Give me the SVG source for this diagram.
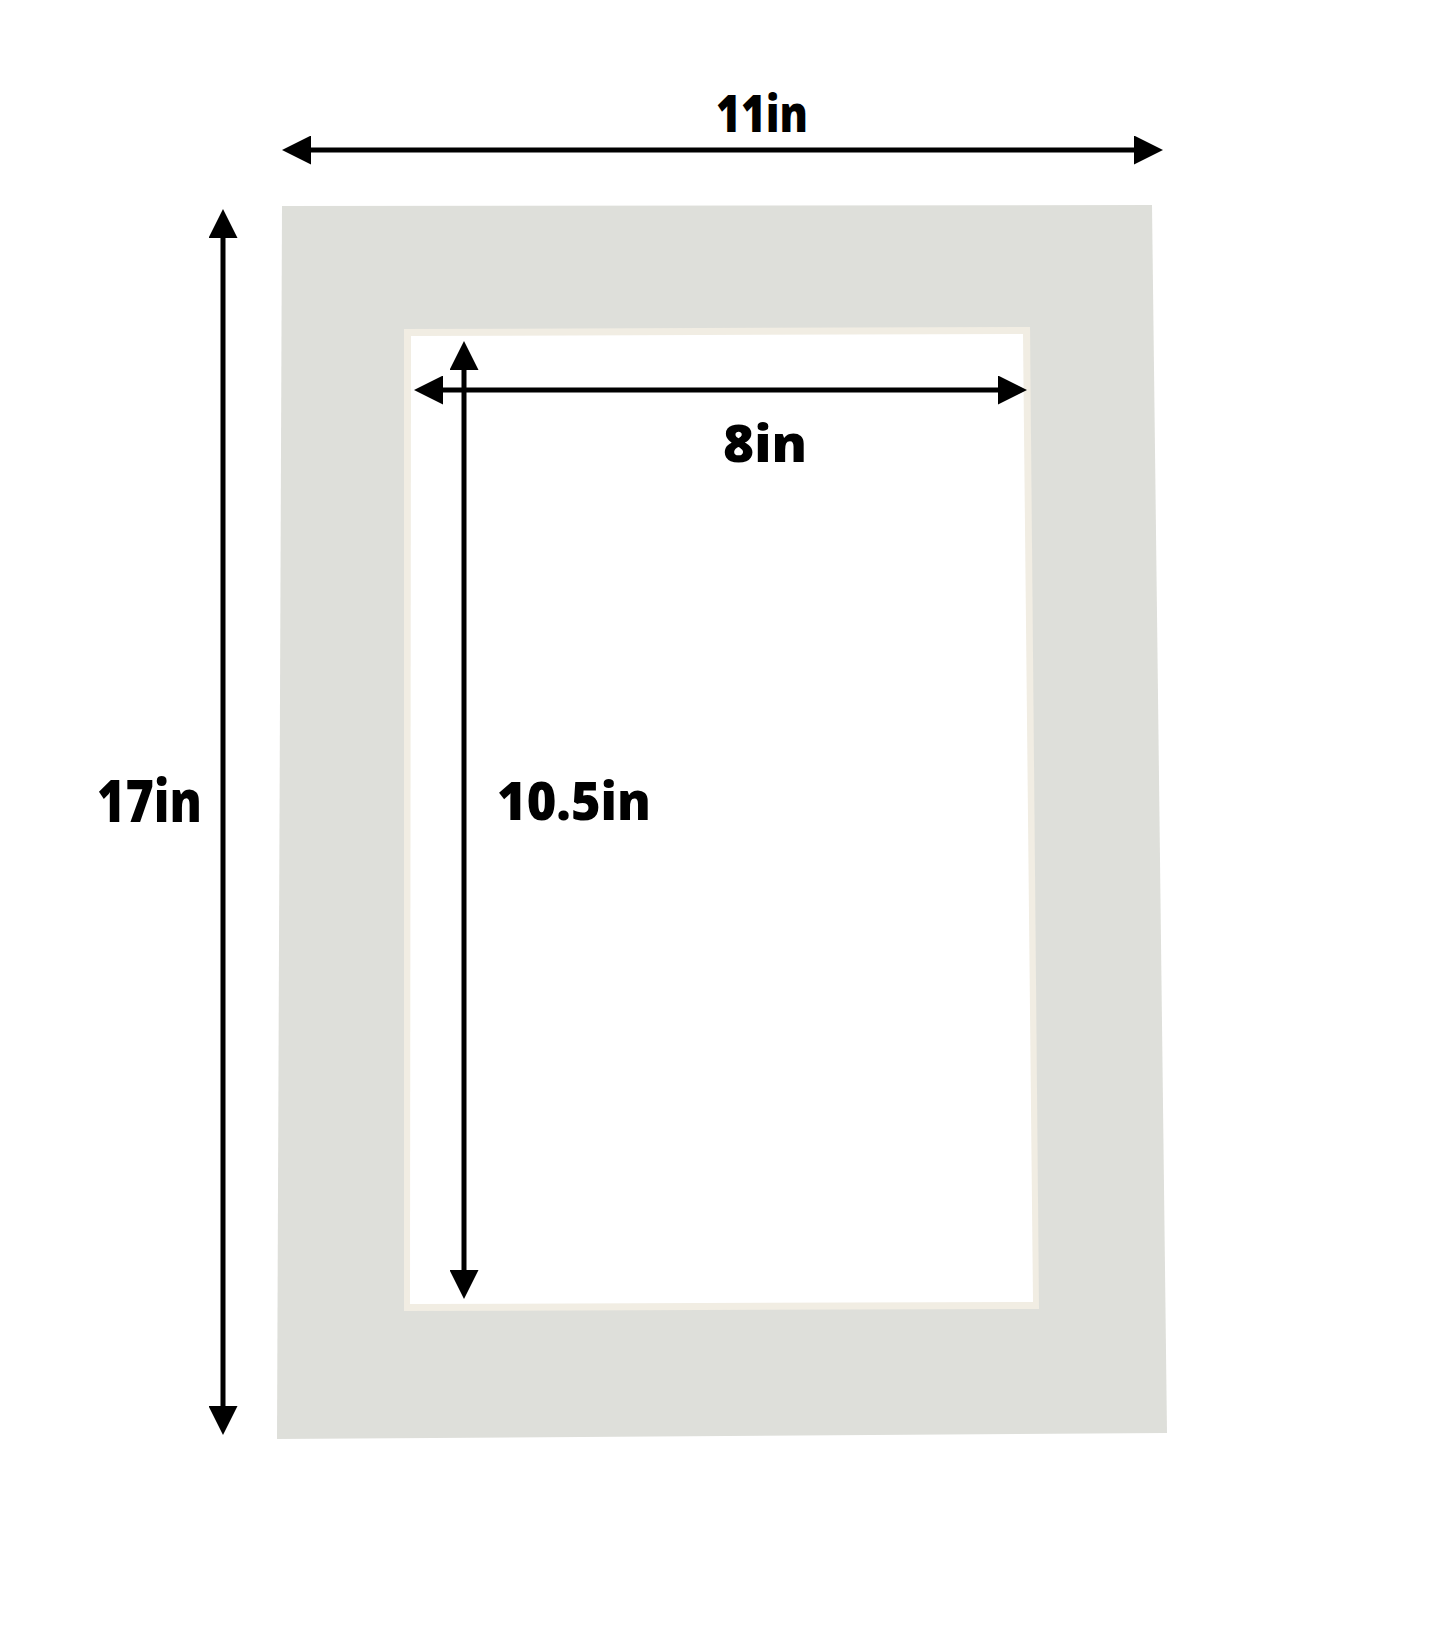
<svg xmlns="http://www.w3.org/2000/svg" width="1445" height="1645" viewBox="0 0 1445 1645">
<style>
.lbl{font-family:"Open Sans","Liberation Sans",sans-serif;font-weight:800;fill:#000;}
.dim{stroke:#000;stroke-width:5;fill:none;marker-start:url(#ah);marker-end:url(#ah);}
</style>
<defs>
<marker id="ah" viewBox="0 0 29 29" refX="19" refY="14.5" markerWidth="29" markerHeight="29" markerUnits="userSpaceOnUse" orient="auto-start-reverse">
<path d="M0,0 L29,14.5 L0,29 Z" fill="#000"/>
</marker>
</defs>
<rect width="1445" height="1645" fill="#fff"/>
<g id="mat">
<polygon points="282,206 1152,205 1167,1433 277,1439" fill="#dedfda"/>
<polygon points="404,329 1030,327 1039,1309 404,1311" fill="#f1ede3"/>
<polygon points="411,336 1023,334 1033,1302 410,1304" fill="#fff"/>
</g>
<g id="connectors">
<line class="dim" x1="292" y1="150" x2="1153" y2="150"/>
<line class="dim" x1="223" y1="219" x2="223" y2="1425"/>
<line class="dim" x1="424" y1="390" x2="1017" y2="390"/>
<line class="dim" x1="464" y1="351" x2="464" y2="1289"/>
</g>
<g id="label-11in"><text class="lbl" x="716" y="132" font-size="52" textLength="92" lengthAdjust="spacingAndGlyphs">11in</text></g>
<g id="label-17in"><text class="lbl" x="97" y="822" font-size="58" textLength="105" lengthAdjust="spacingAndGlyphs">17in</text></g>
<g id="label-8in"><text class="lbl" x="723" y="462" font-size="52" textLength="84" lengthAdjust="spacingAndGlyphs">8in</text></g>
<g id="label-10-5in"><text class="lbl" x="497" y="820" font-size="53" textLength="154" lengthAdjust="spacingAndGlyphs">10.5in</text></g>
</svg>
